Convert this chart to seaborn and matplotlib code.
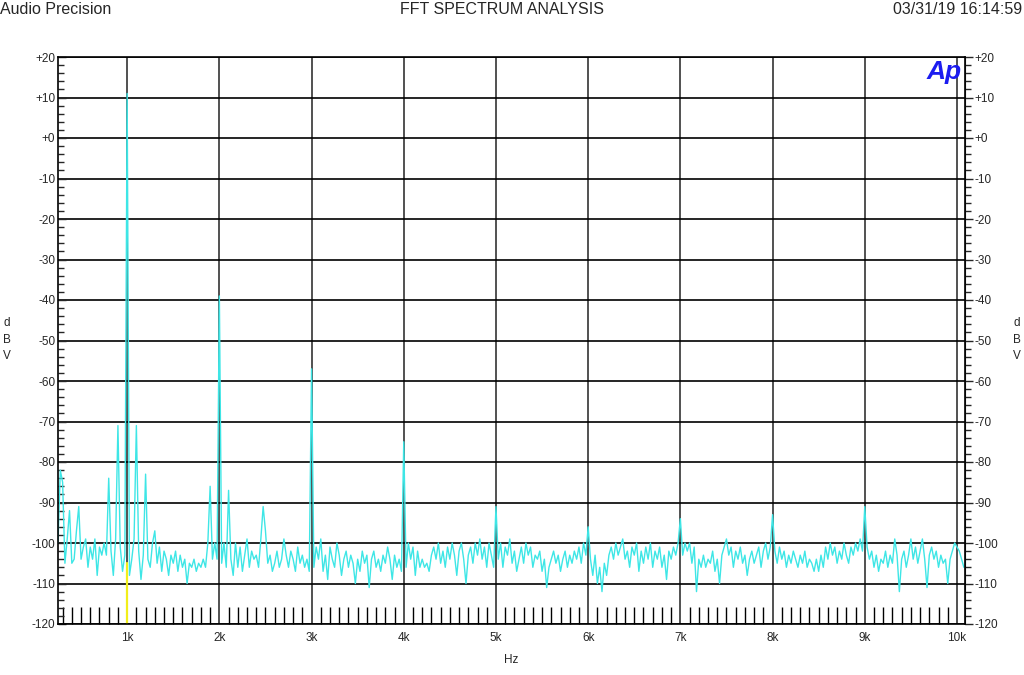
import numpy as np
import pandas as pd
import matplotlib
matplotlib.use("Agg")
import matplotlib.pyplot as plt
import seaborn as sns
from matplotlib.ticker import MultipleLocator, FixedLocator

# FFT bins: 25 Hz apart starting at 250 Hz
FREQ_START = 250
FREQ_STEP = 25

# dBV readings, one list per band
band_0 = [-100, -82, -85, -105, -99, -92, -105, -104, -97, -91,      # 250 - 475
          -104, -101, -99, -106, -101, -104, -99, -108, -101, -103,  # 500 - 725
          -100, -103, -84, -102, -108, -99, -71, -101, -107, -103]   # 750 - 975
band_1 = [11, -108, -104, -99, -71, -102, -109, -103, -83, -104,
          -106, -100, -97, -105, -101, -107, -102, -104, -108, -103,
          -105, -102, -107, -103, -106, -104, -110, -105, -106, -104,
          -107, -105, -106, -104, -106, -100, -86, -104, -100, -104]
band_2 = [-39, -105, -100, -106, -87, -104, -108, -100, -106, -101,
          -107, -103, -99, -106, -102, -104, -103, -106, -99, -91,
          -97, -105, -103, -107, -105, -102, -106, -104, -99, -103,
          -106, -102, -104, -107, -101, -105, -103, -106, -104, -107]
band_3 = [-57, -106, -101, -104, -99, -107, -103, -109, -101, -104,
          -106, -100, -103, -108, -104, -102, -106, -103, -105, -110,
          -104, -107, -102, -105, -103, -111, -104, -102, -106, -104,
          -107, -103, -105, -101, -104, -109, -103, -106, -104, -107]
band_4 = [-75, -106, -100, -104, -101, -108, -102, -106, -104, -106,
          -105, -107, -103, -101, -104, -100, -105, -102, -106, -101,
          -104, -100, -103, -108, -102, -100, -104, -110, -103, -101,
          -105, -100, -103, -99, -104, -101, -106, -100, -103, -106]
band_5 = [-91, -104, -100, -106, -101, -103, -99, -105, -102, -107,
          -104, -101, -105, -100, -103, -101, -106, -103, -104, -102,
          -107, -104, -111, -106, -104, -102, -105, -103, -107, -104,
          -102, -106, -103, -105, -102, -104, -101, -105, -100, -103]
band_6 = [-96, -104, -108, -103, -110, -106, -112, -105, -108, -103,
          -101, -104, -100, -103, -101, -99, -104, -102, -106, -101,
          -103, -100, -107, -102, -105, -101, -104, -100, -106, -102,
          -104, -101, -106, -103, -109, -102, -104, -101, -103, -100]
band_7 = [-94, -103, -100, -102, -100, -105, -101, -112, -104, -106,
          -103, -106, -104, -105, -102, -107, -104, -110, -103, -101,
          -99, -103, -101, -106, -102, -104, -101, -105, -103, -108,
          -104, -102, -105, -103, -101, -106, -102, -100, -104, -101]
band_8 = [-93, -102, -105, -101, -104, -102, -106, -103, -105, -102,
          -104, -106, -103, -105, -102, -106, -104, -105, -107, -104,
          -107, -103, -106, -101, -104, -100, -103, -101, -105, -102,
          -104, -100, -103, -105, -101, -103, -100, -102, -99, -102]
band_9 = [-91, -101, -104, -102, -106, -103, -107, -104, -105, -102,
          -106, -103, -105, -99, -103, -112, -104, -102, -106, -103,
          -99, -104, -101, -105, -102, -99, -104, -111, -103, -101,
          -104, -102, -106, -103, -105, -104, -110, -104, -102, -100]
band_10 = [-101, -102, -104, -106]   # 10000 - 10075

# second channel, only visible at the 1 kHz bin
yellow_freq = [1000, 1000]
yellow_db = [-121, -105]

x_ticks = [1000, 2000, 3000, 4000, 5000, 6000, 7000, 8000, 9000, 10000]
x_labels = ['1k', '2k', '3k', '4k', '5k', '6k', '7k', '8k', '9k', '10k']
y_ticks = list(range(-120, 21, 10))
y_labels = ['-120', '-110', '-100', '-90', '-80', '-70', '-60', '-50',
            '-40', '-30', '-20', '-10', '+0', '+10', '+20']

levels = (band_0 + band_1 + band_2 + band_3 + band_4 + band_5 + band_6
          + band_7 + band_8 + band_9 + band_10)
freqs = FREQ_START + FREQ_STEP * np.arange(len(levels))
df = pd.DataFrame({'freq': freqs, 'dbv': levels})
df_y = pd.DataFrame({'freq': yellow_freq, 'dbv': yellow_db})

sns.set_style('white')
plt.rcParams['font.family'] = ['Liberation Sans Narrow', 'Liberation Sans', 'DejaVu Sans']

fig = plt.figure(figsize=(10.24, 6.75), dpi=100)
ax = fig.add_axes([58 / 1024, 1 - 624 / 675, (965 - 58) / 1024, (624 - 57) / 675])

sns.lineplot(data=df_y, x='freq', y='dbv', color='#f2ee1a', lw=1.6, ax=ax,
             estimator=None, sort=False)
sns.lineplot(data=df, x='freq', y='dbv', color='#3ee6e6', lw=1.0, ax=ax,
             estimator=None, sort=False)

ax.set_xlim(250, 10087)
ax.set_ylim(-120, 20)
ax.set_xlabel('')
ax.set_ylabel('')

# grid
ax.xaxis.set_major_locator(FixedLocator(x_ticks))
ax.set_xticklabels(x_labels)
ax.xaxis.set_minor_locator(MultipleLocator(100))
ax.yaxis.set_major_locator(FixedLocator(y_ticks))
ax.set_yticklabels(y_labels)
ax.yaxis.set_minor_locator(MultipleLocator(2))
ax.grid(which='major', axis='y', color='black', lw=1.2)
ax.grid(which='major', axis='x', color='#333333', lw=1.2)
ax.set_axisbelow(True)

ax.tick_params(axis='x', which='major', length=0, pad=6, labelsize=8.5)
ax.tick_params(axis='x', which='minor', direction='in', length=12, width=1,
               color='black', bottom=True, top=False)
ax.tick_params(axis='y', which='major', direction='in', length=6, width=1,
               pad=2, labelsize=8.5, left=True)
ax.tick_params(axis='y', which='minor', direction='in', length=4, width=1,
               left=True)

for s in ax.spines.values():
    s.set_color('black')
    s.set_linewidth(1.2)

# right axis: ticks outward
ax_r = ax.secondary_yaxis('right')
ax_r.yaxis.set_major_locator(FixedLocator(y_ticks))
ax_r.set_yticklabels(y_labels)
ax_r.yaxis.set_minor_locator(MultipleLocator(2))
ax_r.tick_params(which='major', direction='out', length=6, width=1, pad=1, labelsize=8.5)
ax_r.tick_params(which='minor', direction='out', length=4, width=1)

# header
fig.text(0.0, 1 - 9 / 675, 'Audio Precision', ha='left', va='center', fontsize=11.5)
fig.text(502 / 1024, 1 - 9 / 675, 'FFT SPECTRUM ANALYSIS', ha='center', va='center', fontsize=11.5)
fig.text(1022 / 1024, 1 - 9 / 675, '03/31/19 16:14:59', ha='right', va='center', fontsize=11.5)

fig.text(511 / 1024, 1 - 660 / 675, 'Hz', ha='center', va='center', fontsize=8.5)
fig.text(7 / 1024, 1 - 340 / 675, 'd\nB\nV', ha='center', va='center', fontsize=8.5, linespacing=1.5)
fig.text(1017 / 1024, 1 - 340 / 675, 'd\nB\nV', ha='center', va='center', fontsize=8.5, linespacing=1.5)

fig.text(944 / 1024, 1 - 72 / 675, 'Ap', ha='center', va='center', fontsize=19,
         fontweight='bold', fontstyle='italic', color='#1c1cf0')

fig.savefig('out.png', dpi=100)
